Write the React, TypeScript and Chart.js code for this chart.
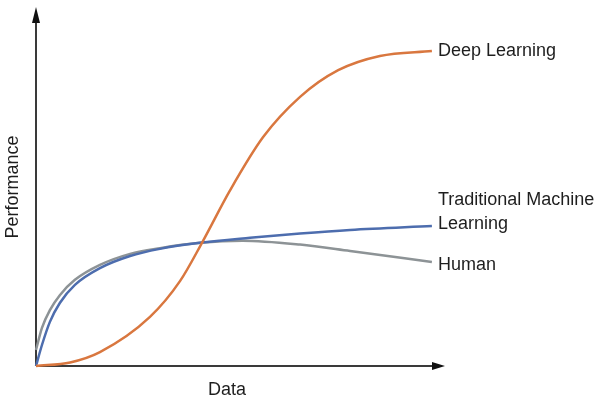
import React, { useEffect, useRef } from "react";
import { Chart, registerables } from "chart.js";

Chart.register(...registerables);

// x positions (arbitrary "data" units) and performance values
const deepX = [0, 0.86, 1.61, 2.87, 3.63, 4.18, 4.89, 5.72, 6.65, 7.61, 8.66, 9.97];
const deepY = [0, 0.1, 0.39, 1.38, 2.39, 3.46, 4.94, 6.43, 7.56, 8.31, 8.71, 8.85];

const tradX = [0, 0.15, 0.35, 0.6, 0.98, 1.61, 2.37, 3.12, 4.13, 5.39, 6.65, 7.91, 9.97];
const tradY = [0, 0.59, 1.24, 1.77, 2.28, 2.75, 3.09, 3.29, 3.46, 3.6, 3.72, 3.82, 3.93];

const humanX = [0, 0.15, 0.35, 0.6, 0.98, 1.61, 2.37, 3.12, 4.13, 5.2, 6.65, 7.91, 9.97];
const humanY = [0.45, 1.07, 1.57, 1.99, 2.42, 2.84, 3.15, 3.31, 3.46, 3.52, 3.41, 3.23, 2.92];

const seriesNames = ["Deep Learning", "Traditional Machine Learning", "Human"];
const labelLines = [["Deep Learning"], ["Traditional Machine", "Learning"], ["Human"]];
const xTitle = "Data";
const yTitle = "Performance";

const FONT = '18px "Liberation Sans", Arial, sans-serif';
const TEXT = "#1e1e1e";

const toPts = (xs: number[], ys: number[]) => xs.map((x, i) => ({ x, y: ys[i] }));

const decorPlugin = {
  id: "decor",
  beforeDatasetsDraw(chart: any) {
    const { ctx, chartArea } = chart;
    const { left, right, top, bottom } = chartArea;
    ctx.save();
    ctx.strokeStyle = "#3a3a3a";
    ctx.lineWidth = 2;
    ctx.beginPath();
    ctx.moveTo(left, bottom);
    ctx.lineTo(left, top + 10);
    ctx.moveTo(left, bottom);
    ctx.lineTo(right - 10, bottom);
    ctx.stroke();
    ctx.fillStyle = "#111";
    // y arrow
    ctx.beginPath();
    ctx.moveTo(left, top - 3);
    ctx.lineTo(left - 4, top + 13);
    ctx.lineTo(left + 4, top + 13);
    ctx.closePath();
    ctx.fill();
    // x arrow
    ctx.beginPath();
    ctx.moveTo(right, bottom);
    ctx.lineTo(right - 13, bottom - 4);
    ctx.lineTo(right - 13, bottom + 4);
    ctx.closePath();
    ctx.fill();
    ctx.restore();
  },
  afterDraw(chart: any) {
    const { ctx } = chart;
    const xs = chart.scales.x;
    const ys = chart.scales.y;
    ctx.save();
    ctx.font = FONT;
    ctx.fillStyle = TEXT;
    // series labels at ends of lines
    const offsets = [[0], [-26, -2], [3]];
    chart.data.datasets.forEach((ds: any, i: number) => {
      const last = ds.data[ds.data.length - 1];
      const px = xs.getPixelForValue(last.x) + 6;
      const py = ys.getPixelForValue(last.y);
      ctx.textAlign = "left";
      ctx.textBaseline = "middle";
      labelLines[i].forEach((line, j) => {
        ctx.fillText(line, px, py + offsets[i][j]);
      });
    });
    // axis titles
    ctx.textAlign = "center";
    ctx.textBaseline = "alphabetic";
    ctx.fillText(xTitle, 227, chart.chartArea.bottom + 29);
    ctx.translate(18, 187);
    ctx.rotate(-Math.PI / 2);
    ctx.fillText(yTitle, 0, 0);
    ctx.restore();
  },
};

export default function App() {
  const ref = useRef<HTMLCanvasElement>(null);
  useEffect(() => {
    if (!ref.current) return;
    const chart = new Chart(ref.current, {
      type: "scatter",
      data: {
        datasets: [
          { label: seriesNames[0], data: toPts(deepX, deepY), borderColor: "#D9773F" },
          { label: seriesNames[1], data: toPts(tradX, tradY), borderColor: "#4D6DAE" },
          { label: seriesNames[2], data: toPts(humanX, humanY), borderColor: "#8D9396" },
        ].map((d) => ({
          ...d,
          showLine: true,
          borderWidth: 2.5,
          pointRadius: 0,
          pointHoverRadius: 0,
          cubicInterpolationMode: "monotone" as const,
          clip: false as any,
        })),
      },
      options: {
        responsive: false,
        animation: false,
        layout: { padding: { left: 36, right: 152, top: 10, bottom: 32 } },
        plugins: { legend: { display: false }, tooltip: { enabled: false } },
        scales: {
          x: { type: "linear", min: 0, max: 10.3, display: false },
          y: { type: "linear", min: 0, max: 10, display: false },
        },
      },
      plugins: [decorPlugin],
    });
    return () => chart.destroy();
  }, []);
  return (
    <canvas
      ref={ref}
      width={597}
      height={398}
      style={{ display: "block", position: "fixed", left: 0, top: 0 }}
    />
  );
}
